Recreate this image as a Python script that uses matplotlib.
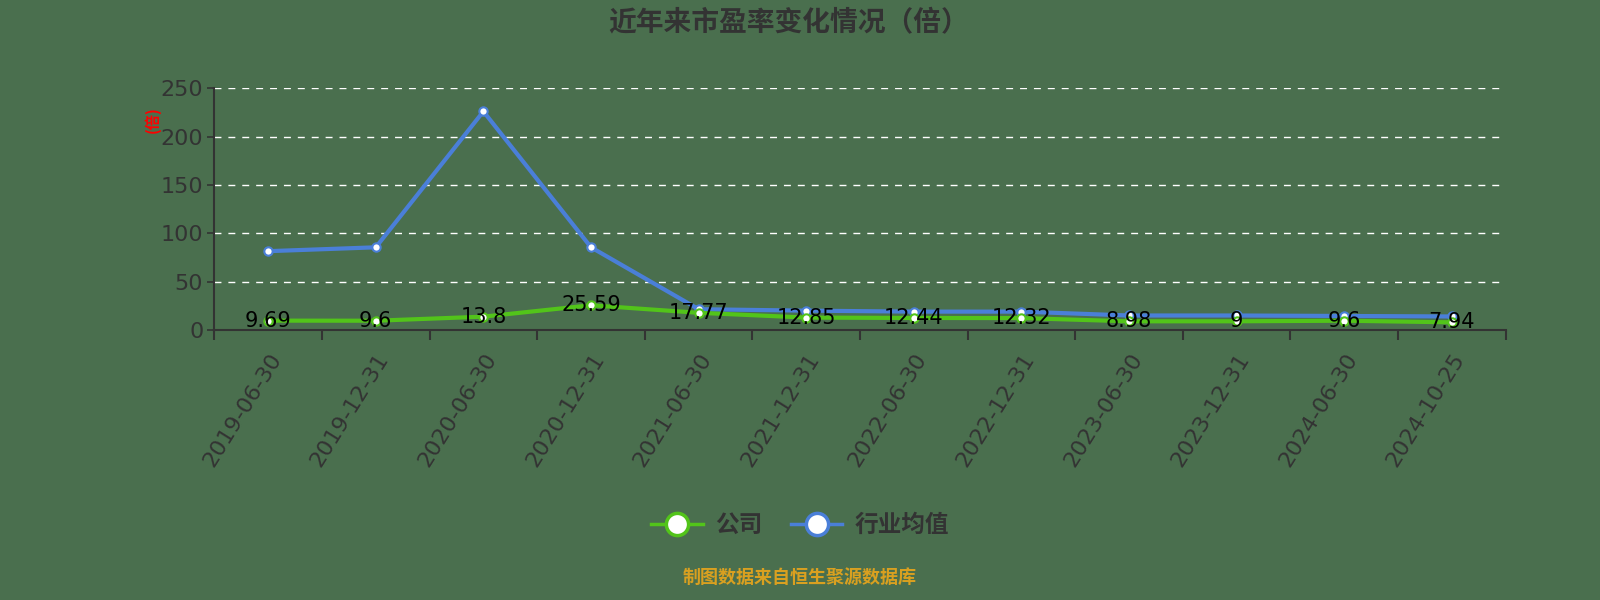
import matplotlib
matplotlib.use("Agg")
import matplotlib.pyplot as plt
from matplotlib.lines import Line2D

plt.rcParams['font.family'] = ['Noto Sans CJK SC', 'DejaVu Sans']

dates = ["2019-06-30", "2019-12-31", "2020-06-30", "2020-12-31", "2021-06-30",
         "2021-12-31", "2022-06-30", "2022-12-31", "2023-06-30", "2023-12-31",
         "2024-06-30", "2024-10-25"]
company_pe = [9.69, 9.6, 13.8, 25.59, 17.77, 12.85, 12.44, 12.32, 8.98, 9, 9.6, 7.94]
industry_pe = [81.5, 85.5, 226, 85.5, 21.5, 20, 19, 19, 15, 15, 14.5, 14]
yticks = [0, 50, 100, 150, 200, 250]

bg = "#4a6f4e"
green = "#52c41a"
blue = "#4a7fd8"
dark = "#333333"

fig = plt.figure(figsize=(16, 6), dpi=100, facecolor=bg)
ax = fig.add_axes([0.134, 0.45, 0.807, 0.403], facecolor=bg)

x = list(range(len(dates)))
ax.plot(x, industry_pe, color=blue, lw=3, marker="o", ms=6,
        mfc="white", mec=blue, mew=1.5, zorder=3)
ax.plot(x, company_pe, color=green, lw=3, marker="o", ms=6,
        mfc="white", mec=green, mew=1.5, zorder=4)

for xi, v in zip(x, company_pe):
    ax.text(xi, v, "{:g}".format(v), ha="center", va="center",
            fontsize=15, color="black", zorder=5, family="DejaVu Sans")

ax.set_xlim(-0.5, len(dates) - 0.5)
ax.set_ylim(0, 250)
ax.set_yticks(yticks)
ax.set_yticklabels([str(t) for t in yticks], fontsize=16, color=dark,
                   family="DejaVu Sans")
for t in yticks[1:]:
    ax.axhline(t, color="white", lw=1, ls=(0, (5, 5)), zorder=1)

ax.set_xticks(x)
ax.set_xticklabels(dates, rotation=58, ha="right", rotation_mode="anchor",
                   fontsize=16, color=dark, family="DejaVu Sans")
ax.set_xticks([i - 0.5 for i in range(len(dates) + 1)], minor=True)
ax.tick_params(axis="x", which="major", length=0, pad=14)
ax.tick_params(axis="x", which="minor", length=7, width=1.5, color=dark)
ax.tick_params(axis="y", length=5, width=1.2, color=dark, pad=3)

for s in ["top", "right"]:
    ax.spines[s].set_visible(False)
ax.spines["left"].set_color(dark)
ax.spines["left"].set_linewidth(1.5)
ax.spines["bottom"].set_color(dark)
ax.spines["bottom"].set_linewidth(1.5)

fig.text(0.095, 0.80, "(倍)", rotation=90, color="red", fontsize=11,
         fontweight="bold", ha="center", va="center")

fig.text(0.493, 0.962, "近年来市盈率变化情况（倍）", ha="center", va="center",
         fontsize=20, fontweight="bold", color=dark)

handles = [
    Line2D([], [], color=green, lw=2.5, marker="o", ms=16, mfc="white",
           mec=green, mew=2.5),
    Line2D([], [], color=blue, lw=2.5, marker="o", ms=16, mfc="white",
           mec=blue, mew=2.5),
]
leg = fig.legend(handles, ["公司", "行业均值"], loc="center", bbox_to_anchor=(0.5, 0.125),
                 ncol=2, frameon=False, fontsize=17, labelcolor=dark,
                 handlelength=2.2, columnspacing=1.2, handletextpad=0.5)
for t in leg.get_texts():
    t.set_fontweight("bold")

fig.text(0.5, 0.037, "制图数据来自恒生聚源数据库", ha="center", va="center",
         fontsize=13, fontweight="bold", color="#d9a020")

fig.savefig("out.png", dpi=100, facecolor=bg)
